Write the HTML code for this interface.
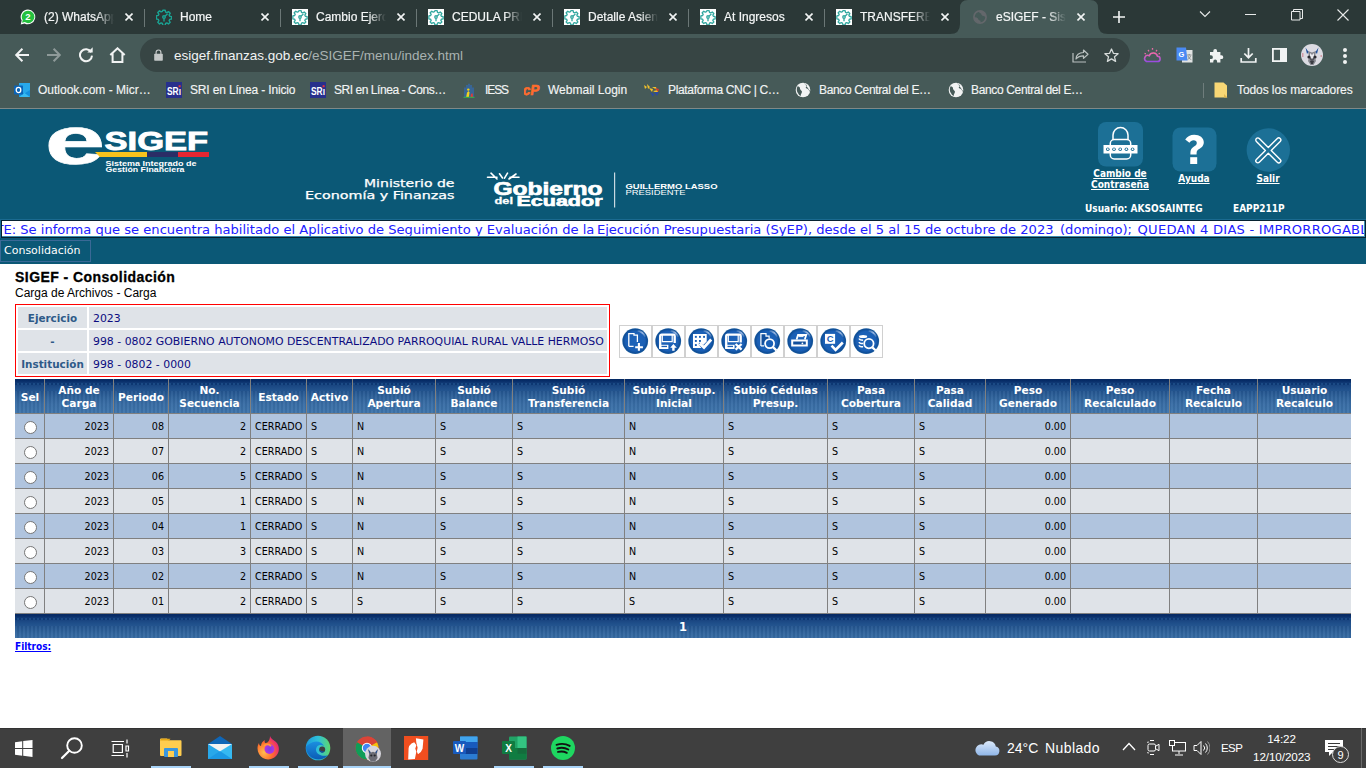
<!DOCTYPE html>
<html lang="es"><head><meta charset="utf-8"><title>eSIGEF - Sistema</title>
<style>
*{margin:0;padding:0;box-sizing:border-box}
html,body{width:1366px;height:768px;overflow:hidden;background:#fff;font-family:"Liberation Sans",sans-serif}
.abs{position:absolute}
.tabt{font:12px "Liberation Sans",sans-serif;color:#f4f6f6;-webkit-text-stroke:0.2px #f4f6f6;white-space:nowrap;overflow:hidden;line-height:17px;
 -webkit-mask-image:linear-gradient(to right,#000 75%,transparent 100%);mask-image:linear-gradient(to right,#000 75%,transparent 100%)}
.url{left:174px;top:47px;font:13.5px "Liberation Sans",sans-serif;color:#f1f3f3;white-space:nowrap;line-height:18px}
.bmt{top:82px;font:12px "Liberation Sans",sans-serif;color:#f2f4f4;-webkit-text-stroke:0.15px #f2f4f4;white-space:nowrap;line-height:16px}
.hl{font:bold 10px "DejaVu Sans Condensed","DejaVu Sans",sans-serif;color:#fff;text-align:center;text-decoration:underline;line-height:11px;white-space:nowrap}
.hu{font:bold 10px "DejaVu Sans Condensed","DejaVu Sans",sans-serif;color:#fff;white-space:nowrap;line-height:14px}
.mq{left:2px;top:221px;width:1362px;height:15px;overflow:hidden;background:#fff}
.mqi{position:absolute;top:1px;font:13.1px "DejaVu Sans",sans-serif;color:#2020ff;white-space:nowrap;line-height:16px}
.menu{left:0;top:240px;width:91px;height:22px;border:1px solid #3a6996;color:#fff;font:11px "DejaVu Sans",sans-serif;line-height:20px;padding-left:3px}
.flab{left:18px;width:69px;height:21px;background:#dfe3e8;font:bold 10.4px "DejaVu Sans",sans-serif;color:#2e5a88;text-align:center;line-height:23px}
.fval{left:89px;width:518px;height:21px;background:#dfe3e8;font:10.9px "DejaVu Sans",sans-serif;color:#0b0b80;padding-left:4px;line-height:23.5px;white-space:nowrap}
.thead{background:
 repeating-linear-gradient(90deg,#0d3772 0 2px,#1b4a85 2px 4px) 0 4px/100% 2px no-repeat,
 repeating-linear-gradient(90deg,rgba(255,255,255,0.045) 0 2px,rgba(0,0,0,0.045) 2px 4px) 0 12px/100% 30px no-repeat,
 linear-gradient(#062a64 0,#072c67 2px,#0c3470 3px,#163f7a 5px,#1b4884 7px,#20508b 10px,#275993 14px,#30649d 19px,#386da5 25px,#3e74ab 100%)}
.td{font:9.6px "DejaVu Sans",sans-serif;color:#000;line-height:26px;height:24px;white-space:nowrap}
.th{font:bold 10.6px "DejaVu Sans",sans-serif;color:#fff;text-align:center;height:34px;padding-top:1.8px;display:flex;align-items:center;justify-content:center;line-height:13.1px;white-space:nowrap}
.radio{width:13px;height:13px;border-radius:50%;border:1px solid #767676;background:#fff}
.tray{font:14px "Liberation Sans",sans-serif;color:#fff;white-space:nowrap;line-height:20px}
</style></head><body>
<svg width="0" height="0" style="position:absolute"><defs>
<radialGradient id="ball" cx="0.5" cy="0.5" r="0.5"><stop offset="0" stop-color="#1d63b9"/><stop offset="0.75" stop-color="#1a5fb5"/><stop offset="0.92" stop-color="#0f4e98"/><stop offset="1" stop-color="#23629f"/></radialGradient>
<linearGradient id="gloss" x1="0" y1="0" x2="1" y2="1"><stop offset="0" stop-color="#fff" stop-opacity="0.1"/><stop offset="0.5" stop-color="#cfe0ff" stop-opacity="0.7"/><stop offset="1" stop-color="#fff" stop-opacity="0.1"/></linearGradient>
</defs></svg>
<div class="abs" style="left:0;top:0;width:1366px;height:34px;background:#2b3837"></div>
<svg class="abs" style="left:950px;top:0" width="158" height="34" viewBox="0 0 158 34">
<path d="M0 34 Q10 34 10 24 L10 8 Q10 0 18 0 L140 0 Q148 0 148 8 L148 24 Q148 34 158 34 Z" fill="#465a58"/></svg>
<div class="abs" style="left:144px;top:9px;width:1px;height:18px;background:#6b7776"></div>
<div class="abs" style="left:280px;top:9px;width:1px;height:18px;background:#6b7776"></div>
<div class="abs" style="left:416px;top:9px;width:1px;height:18px;background:#6b7776"></div>
<div class="abs" style="left:552px;top:9px;width:1px;height:18px;background:#6b7776"></div>
<div class="abs" style="left:688px;top:9px;width:1px;height:18px;background:#6b7776"></div>
<div class="abs" style="left:824px;top:9px;width:1px;height:18px;background:#6b7776"></div>
<div class="abs tabt" style="left:44px;top:9px;width:70px;height:17px;--bg:#2b3837">(2) WhatsApp</div>
<svg class="abs" style="left:125px;top:13px" width="8" height="8" viewBox="0 0 8 8"><path d="M0.5 0.5L7.5 7.5M7.5 0.5L0.5 7.5" stroke="#f2f4f4" stroke-width="1.6"/></svg>
<div class="abs tabt" style="left:180px;top:9px;width:84px;height:17px;--bg:#2b3837">Home</div>
<svg class="abs" style="left:261px;top:13px" width="8" height="8" viewBox="0 0 8 8"><path d="M0.5 0.5L7.5 7.5M7.5 0.5L0.5 7.5" stroke="#f2f4f4" stroke-width="1.6"/></svg>
<div class="abs tabt" style="left:316px;top:9px;width:70px;height:17px;--bg:#2b3837">Cambio Ejercicio</div>
<svg class="abs" style="left:397px;top:13px" width="8" height="8" viewBox="0 0 8 8"><path d="M0.5 0.5L7.5 7.5M7.5 0.5L0.5 7.5" stroke="#f2f4f4" stroke-width="1.6"/></svg>
<div class="abs tabt" style="left:452px;top:9px;width:70px;height:17px;--bg:#2b3837">CEDULA PRESUP</div>
<svg class="abs" style="left:533px;top:13px" width="8" height="8" viewBox="0 0 8 8"><path d="M0.5 0.5L7.5 7.5M7.5 0.5L0.5 7.5" stroke="#f2f4f4" stroke-width="1.6"/></svg>
<div class="abs tabt" style="left:588px;top:9px;width:70px;height:17px;--bg:#2b3837">Detalle Asiento</div>
<svg class="abs" style="left:669px;top:13px" width="8" height="8" viewBox="0 0 8 8"><path d="M0.5 0.5L7.5 7.5M7.5 0.5L0.5 7.5" stroke="#f2f4f4" stroke-width="1.6"/></svg>
<div class="abs tabt" style="left:724px;top:9px;width:84px;height:17px;--bg:#2b3837">At Ingresos</div>
<svg class="abs" style="left:805px;top:13px" width="8" height="8" viewBox="0 0 8 8"><path d="M0.5 0.5L7.5 7.5M7.5 0.5L0.5 7.5" stroke="#f2f4f4" stroke-width="1.6"/></svg>
<div class="abs tabt" style="left:860px;top:9px;width:70px;height:17px;--bg:#2b3837">TRANSFERENCIAS</div>
<svg class="abs" style="left:941px;top:13px" width="8" height="8" viewBox="0 0 8 8"><path d="M0.5 0.5L7.5 7.5M7.5 0.5L0.5 7.5" stroke="#f2f4f4" stroke-width="1.6"/></svg>
<div class="abs tabt" style="left:996px;top:9px;width:70px;height:17px;--bg:#465a58">eSIGEF - Sistema</div>
<svg class="abs" style="left:1077px;top:13px" width="8" height="8" viewBox="0 0 8 8"><path d="M0.5 0.5L7.5 7.5M7.5 0.5L0.5 7.5" stroke="#f2f4f4" stroke-width="1.6"/></svg>
<svg class="abs" style="left:20px;top:9px" width="16" height="16" viewBox="0 0 16 16">
<path d="M8 0.6a7.3 7.3 0 0 0-6.3 11l-1 3.8 3.9-1A7.3 7.3 0 1 0 8 0.6z" fill="#fff"/>
<path d="M8 1.7a6.2 6.2 0 0 0-5.3 9.4l-.7 2.7 2.8-.7A6.2 6.2 0 1 0 8 1.7z" fill="#25c03f"/>
<text x="8" y="11.4" font-family="Liberation Sans" font-weight="bold" font-size="9.5" fill="#fff" text-anchor="middle">2</text></svg>
<svg class="abs" style="left:156px;top:9px" width="16" height="16" viewBox="0 0 16 16">
<g transform="translate(8 8) scale(1.0) translate(-8 -8)" fill="none" stroke="#1aa393" stroke-width="1.4" stroke-linejoin="round">
<path d="M6.8 1.2h2.4l.4 1.9 1.3.6 1.6-1.1 1.7 1.7-1.1 1.6.6 1.3 1.9.4v2.4l-1.9.4-.6 1.3 1.1 1.6-1.7 1.7-1.6-1.1-1.3.6-.4 1.9H6.8l-.4-1.9-1.3-.6-1.6 1.1-1.7-1.7 1.1-1.6-.6-1.3-1.9-.4V6.8l1.9-.4.6-1.3-1.1-1.6 1.7-1.7 1.6 1.1 1.3-.6z"/>
<circle cx="8" cy="8" r="1.3"/><path d="M8 9.3v3.2M9 7.2l2.6-2.4"/>
</g></svg>
<svg class="abs" style="left:292px;top:9px" width="16" height="16" viewBox="0 0 16 16"><rect x="0" y="0" width="16" height="16" fill="#fff"/>
<g transform="translate(8 8) scale(0.94) translate(-8 -8)" fill="none" stroke="#33a8a0" stroke-width="1.4" stroke-linejoin="round">
<path d="M6.8 1.2h2.4l.4 1.9 1.3.6 1.6-1.1 1.7 1.7-1.1 1.6.6 1.3 1.9.4v2.4l-1.9.4-.6 1.3 1.1 1.6-1.7 1.7-1.6-1.1-1.3.6-.4 1.9H6.8l-.4-1.9-1.3-.6-1.6 1.1-1.7-1.7 1.1-1.6-.6-1.3-1.9-.4V6.8l1.9-.4.6-1.3-1.1-1.6 1.7-1.7 1.6 1.1 1.3-.6z"/>
<circle cx="8" cy="8" r="1.3"/><path d="M8 9.3v3.2M9 7.2l2.6-2.4"/>
</g></svg>
<svg class="abs" style="left:428px;top:9px" width="16" height="16" viewBox="0 0 16 16"><rect x="0" y="0" width="16" height="16" fill="#fff"/>
<g transform="translate(8 8) scale(0.94) translate(-8 -8)" fill="none" stroke="#33a8a0" stroke-width="1.4" stroke-linejoin="round">
<path d="M6.8 1.2h2.4l.4 1.9 1.3.6 1.6-1.1 1.7 1.7-1.1 1.6.6 1.3 1.9.4v2.4l-1.9.4-.6 1.3 1.1 1.6-1.7 1.7-1.6-1.1-1.3.6-.4 1.9H6.8l-.4-1.9-1.3-.6-1.6 1.1-1.7-1.7 1.1-1.6-.6-1.3-1.9-.4V6.8l1.9-.4.6-1.3-1.1-1.6 1.7-1.7 1.6 1.1 1.3-.6z"/>
<circle cx="8" cy="8" r="1.3"/><path d="M8 9.3v3.2M9 7.2l2.6-2.4"/>
</g></svg>
<svg class="abs" style="left:564px;top:9px" width="16" height="16" viewBox="0 0 16 16"><rect x="0" y="0" width="16" height="16" fill="#fff"/>
<g transform="translate(8 8) scale(0.94) translate(-8 -8)" fill="none" stroke="#33a8a0" stroke-width="1.4" stroke-linejoin="round">
<path d="M6.8 1.2h2.4l.4 1.9 1.3.6 1.6-1.1 1.7 1.7-1.1 1.6.6 1.3 1.9.4v2.4l-1.9.4-.6 1.3 1.1 1.6-1.7 1.7-1.6-1.1-1.3.6-.4 1.9H6.8l-.4-1.9-1.3-.6-1.6 1.1-1.7-1.7 1.1-1.6-.6-1.3-1.9-.4V6.8l1.9-.4.6-1.3-1.1-1.6 1.7-1.7 1.6 1.1 1.3-.6z"/>
<circle cx="8" cy="8" r="1.3"/><path d="M8 9.3v3.2M9 7.2l2.6-2.4"/>
</g></svg>
<svg class="abs" style="left:700px;top:9px" width="16" height="16" viewBox="0 0 16 16"><rect x="0" y="0" width="16" height="16" fill="#fff"/>
<g transform="translate(8 8) scale(0.94) translate(-8 -8)" fill="none" stroke="#33a8a0" stroke-width="1.4" stroke-linejoin="round">
<path d="M6.8 1.2h2.4l.4 1.9 1.3.6 1.6-1.1 1.7 1.7-1.1 1.6.6 1.3 1.9.4v2.4l-1.9.4-.6 1.3 1.1 1.6-1.7 1.7-1.6-1.1-1.3.6-.4 1.9H6.8l-.4-1.9-1.3-.6-1.6 1.1-1.7-1.7 1.1-1.6-.6-1.3-1.9-.4V6.8l1.9-.4.6-1.3-1.1-1.6 1.7-1.7 1.6 1.1 1.3-.6z"/>
<circle cx="8" cy="8" r="1.3"/><path d="M8 9.3v3.2M9 7.2l2.6-2.4"/>
</g></svg>
<svg class="abs" style="left:836px;top:9px" width="16" height="16" viewBox="0 0 16 16"><rect x="0" y="0" width="16" height="16" fill="#fff"/>
<g transform="translate(8 8) scale(0.94) translate(-8 -8)" fill="none" stroke="#33a8a0" stroke-width="1.4" stroke-linejoin="round">
<path d="M6.8 1.2h2.4l.4 1.9 1.3.6 1.6-1.1 1.7 1.7-1.1 1.6.6 1.3 1.9.4v2.4l-1.9.4-.6 1.3 1.1 1.6-1.7 1.7-1.6-1.1-1.3.6-.4 1.9H6.8l-.4-1.9-1.3-.6-1.6 1.1-1.7-1.7 1.1-1.6-.6-1.3-1.9-.4V6.8l1.9-.4.6-1.3-1.1-1.6 1.7-1.7 1.6 1.1 1.3-.6z"/>
<circle cx="8" cy="8" r="1.3"/><path d="M8 9.3v3.2M9 7.2l2.6-2.4"/>
</g></svg>
<svg class="abs" style="left:972px;top:9px" width="16" height="16" viewBox="0 0 16 16">
<circle cx="8" cy="8" r="6.1" fill="none" stroke="#63676b" stroke-width="1.7"/>
<path d="M6.8 2.2C7 3.6 8 4.3 9.1 4.4 9.3 5.7 10.2 6.7 11.5 7 12.5 7.2 13.3 7.7 13.9 8.5L14.2 6 12.3 3 9 1.6z" fill="#63676b"/>
<path d="M1.9 8.4C3.5 8.2 5 8.5 6 9.4 6.2 10.8 7.3 11.5 8.5 11.7 8.7 12.7 8.4 13.6 7.6 14.2L5 13.6 2.4 11z" fill="#63676b"/></svg>
<svg class="abs" style="left:1112px;top:10px" width="14" height="14" viewBox="0 0 14 14"><path d="M7 1v12M1 7h12" stroke="#f2f4f4" stroke-width="1.6"/></svg>
<svg class="abs" style="left:1199px;top:10px" width="12" height="8" viewBox="0 0 12 8"><path d="M1 1.5l5 5 5-5" fill="none" stroke="#e8eaea" stroke-width="1.1"/></svg>
<div class="abs" style="left:1245px;top:14px;width:11px;height:1px;background:#e8eaea"></div>
<svg class="abs" style="left:1291px;top:9px" width="12" height="12" viewBox="0 0 12 12"><path d="M0.5 2.5h8.5v8.5H0.5z" fill="none" stroke="#e8eaea"/><path d="M2.5 2.5V0.5h9v9H9" fill="none" stroke="#e8eaea"/></svg>
<svg class="abs" style="left:1337px;top:9px" width="12" height="12" viewBox="0 0 12 12"><path d="M0.5 0.5l11 11M11.5 0.5l-11 11" stroke="#e8eaea" stroke-width="1.1"/></svg>
<div class="abs" style="left:0;top:34px;width:1366px;height:74px;background:#465a58"></div>
<svg class="abs" style="left:14px;top:47px" width="16" height="16" viewBox="0 0 16 16"><path d="M15 8H2.8M8.4 1.8L2.2 8l6.2 6.2" fill="none" stroke="#f1f3f3" stroke-width="2"/></svg>
<svg class="abs" style="left:46px;top:47px" width="16" height="16" viewBox="0 0 16 16"><path d="M1 8h12.2M7.6 1.8L13.8 8l-6.2 6.2" fill="none" stroke="#8e9a99" stroke-width="2"/></svg>
<svg class="abs" style="left:78px;top:47px" width="16" height="16" viewBox="0 0 16 16"><path d="M13.2 5.2A6 6 0 1 0 14 8.6" fill="none" stroke="#f1f3f3" stroke-width="2"/><path d="M9.3 5.6h5.4V0.2z" fill="#f1f3f3"/></svg>
<svg class="abs" style="left:109px;top:47px" width="17" height="16" viewBox="0 0 17 16"><path d="M1.3 8L8.5 1.3 15.7 8M3.6 6.2V15h9.8V6.2" fill="none" stroke="#f1f3f3" stroke-width="2" stroke-linejoin="miter"/></svg>
<div class="abs" style="left:140px;top:38px;width:990px;height:34px;border-radius:17px;background:#374544"></div>
<svg class="abs" style="left:153.5px;top:49px" width="9" height="12" viewBox="0 0 9 12"><path d="M2.1 5V3.4a2.4 2.4 0 0 1 4.8 0V5" fill="none" stroke="#c4c8c8" stroke-width="1.2"/><rect x="0.2" y="4.8" width="8.6" height="6.9" rx="0.7" fill="#c4c8c8"/></svg>
<div class="abs url">esigef.finanzas.gob.ec<span style="color:#a9b2b1">/eSIGEF/menu/index.html</span></div>
<svg class="abs" style="left:1072px;top:48px" width="17" height="15" viewBox="0 0 17 15"><path d="M1 5v9h13" fill="none" stroke="#b9c0bf" stroke-width="1.2"/><path d="M4 11c0-4 3-6.5 7.5-6.5V2l4.5 4.2-4.5 4.2V7.8C8 7.8 5.5 9 4 11z" fill="none" stroke="#b9c0bf" stroke-width="1.2" stroke-linejoin="round"/></svg>
<svg class="abs" style="left:1104px;top:48px" width="15" height="15" viewBox="0 0 15 15"><path d="M7.5 1l1.9 4.3 4.7.4-3.6 3.1 1.1 4.6-4.1-2.5-4.1 2.5 1.1-4.6L0.9 5.7l4.7-.4z" fill="none" stroke="#d5dad9" stroke-width="1.3" stroke-linejoin="round"/></svg>
<svg class="abs" style="left:1143px;top:47px" width="18" height="16" viewBox="0 0 18 16"><defs><linearGradient id="wg" x1="0" y1="0" x2="0" y2="1"><stop offset="0" stop-color="#f06aa8"/><stop offset="1" stop-color="#9a4de0"/></linearGradient></defs>
<path d="M3.5 14.5h11a2.6 2.6 0 0 0 0-5.2 4.3 4.3 0 0 0-8.2-.6A3 3 0 0 0 3.5 14.5z" fill="none" stroke="url(#wg)" stroke-width="1.6"/><path d="M9.5 1v1.8M5 3l1 1.3M14 3l-1 1.3M1.5 6.3l1.4.5M17 6.3l-1.4.5" stroke="#e86aa6" stroke-width="1.3"/></svg>
<svg class="abs" style="left:1176px;top:47px" width="17" height="16" viewBox="0 0 17 16"><rect x="6" y="3" width="10.5" height="12.5" fill="#e1e3e3"/><path d="M0.5 0.5h9.5l1.5 13H0.5z" fill="#4a8af4"/><text x="5.3" y="9.6" font-family="Liberation Sans" font-weight="bold" font-size="7.5" fill="#fff" text-anchor="middle">G</text><path d="M11 8h4.5M13.2 7v1.2M12 9c.6 1.8 1.8 3 3.3 3.6M14.6 8.8c-.5 1.7-1.6 3-3 3.8" stroke="#7a7f7f" stroke-width="0.8" fill="none"/></svg>
<svg class="abs" style="left:1209px;top:48px" width="15" height="15" viewBox="0 0 15 15"><path d="M1 4h3.3V3a1.9 1.9 0 0 1 3.8 0v1h3.3v3.3h1a1.9 1.9 0 0 1 0 3.8h-1V14.5H8.1v-1a1.9 1.9 0 0 0-3.8 0v1H1v-3.4h1a1.9 1.9 0 0 0 0-3.8H1z" fill="#f1f3f3"/></svg>
<svg class="abs" style="left:1240px;top:47px" width="17" height="16" viewBox="0 0 17 16"><path d="M8.5 1v9.5M4.3 6.5l4.2 4.2 4.2-4.2M1.2 11v4h14.6v-4" fill="none" stroke="#f1f3f3" stroke-width="1.7"/></svg>
<svg class="abs" style="left:1272px;top:48px" width="15" height="14" viewBox="0 0 15 14"><rect x="0.9" y="0.9" width="13.2" height="12.2" fill="none" stroke="#f1f3f3" stroke-width="1.8"/><rect x="8" y="1" width="6" height="12" fill="#f1f3f3"/></svg>
<svg class="abs" style="left:1301px;top:44px" width="22" height="22" viewBox="0 0 22 22"><defs><clipPath id="avc"><circle cx="11" cy="11" r="11"/></clipPath></defs><g clip-path="url(#avc)"><rect width="22" height="22" fill="#dcdbe2"/>
<path d="M7 7l4 1.5 4-1.5-1 6 1 4-2.5 4h-3L7 17l1-4z" fill="#85868e"/><path d="M9 12l2 1 2-1v4l-2 2-2-2z" fill="#55565e"/><path d="M4.5 3.5l3 4.5-1.5 2zM17.5 3.5l-3 4.5 1.5 2z" fill="#1d4f9a"/>
<path d="M9 9l2 2 2-2 0 4-2 2-2-2z" fill="#e8e8ec"/><circle cx="8" cy="13" r="1.6" fill="#2a2b30"/><circle cx="14" cy="13" r="1.6" fill="#2a2b30"/><path d="M9 17h4l-1 3h-2z" fill="#3a3b42"/>
<path d="M1 10h1.5M1 12h1.5M19.5 12h1.5" stroke="#c04050" stroke-width="0.8"/></g></svg>
<div class="abs" style="left:1343px;top:48px;width:4px;height:4px;border-radius:2px;background:#f1f3f3"></div>
<div class="abs" style="left:1343px;top:54px;width:4px;height:4px;border-radius:2px;background:#f1f3f3"></div>
<div class="abs" style="left:1343px;top:60px;width:4px;height:4px;border-radius:2px;background:#f1f3f3"></div>
<svg class="abs" style="left:14px;top:82px" width="16" height="16" viewBox="0 0 16 16"><rect x="5" y="1" width="11" height="14" fill="#28a8ea"/><path d="M5 8l5.5 3.5L16 8v7H5z" fill="#1490df"/><path d="M5 15l5.5-4L16 15z" fill="#50d9ff" opacity=".6"/><rect x="0" y="3.5" width="9" height="9" rx="0.8" fill="#0a64b8"/><ellipse cx="4.5" cy="8" rx="2.3" ry="2.6" fill="none" stroke="#fff" stroke-width="1.3"/></svg>
<div class="abs bmt" style="left:38px">Outlook.com - Micr…</div>
<svg class="abs" style="left:166px;top:82px" width="16" height="16" viewBox="0 0 16 16"><rect width="16" height="16" fill="#28308c"/><text x="1" y="12.6" font-family="Liberation Sans" font-weight="bold" font-size="11" fill="#fff" textLength="14" lengthAdjust="spacingAndGlyphs">SRı</text><rect x="12.6" y="3.2" width="2" height="2" fill="#e8343a"/></svg>
<div class="abs bmt" style="left:190px;letter-spacing:-0.16px">SRI en Línea - Inicio</div>
<svg class="abs" style="left:310px;top:82px" width="16" height="16" viewBox="0 0 16 16"><rect width="16" height="16" fill="#28308c"/><text x="1" y="12.6" font-family="Liberation Sans" font-weight="bold" font-size="11" fill="#fff" textLength="14" lengthAdjust="spacingAndGlyphs">SRı</text><rect x="12.6" y="3.2" width="2" height="2" fill="#e8343a"/></svg>
<div class="abs bmt" style="left:334px;letter-spacing:-0.45px">SRI en Línea - Cons…</div>
<svg class="abs" style="left:461px;top:82px" width="16" height="16" viewBox="0 0 16 16">
<path d="M4 15V5.5M6 15V3M8 15V1.8M10 15V3M12 15V5.5" stroke="#2f6fc8" stroke-width="1.1"/>
<path d="M5.2 15l.8-4.2 1.5-1.8 1 1.6-.6 4.4z" fill="#f2d21c"/><circle cx="7.3" cy="7.6" r="1.2" fill="#f2d21c"/>
<path d="M9.5 15l.5-3 1.5-.8.5 3.8z" fill="#e03a3a"/><path d="M2.5 15.3h11" stroke="#2fb84a" stroke-width="1"/></svg>
<div class="abs bmt" style="left:485px;letter-spacing:-1.1px">IESS</div>
<svg class="abs" style="left:524px;top:82px" width="17" height="16" viewBox="0 0 17 16"><text x="0" y="13.2" font-family="Liberation Sans" font-weight="bold" font-size="14.5" fill="#ff6c2c" stroke="#ff6c2c" stroke-width="0.6" textLength="16.5" lengthAdjust="spacingAndGlyphs" transform="skewX(-8)">cP</text></svg>
<div class="abs bmt" style="left:548px">Webmail Login</div>
<svg class="abs" style="left:643px;top:82px" width="17" height="16" viewBox="0 0 17 16"><path d="M1 3l3 2-2 2zM4 2l3 3-2 2zM6 6l4 1-1 3zM9 5l4 0 1 3zM10 9l5-1 0 4z" fill="#f2c22b"/><path d="M7 10l4 2-1 3zM11 10l5 0-2 4z" fill="#2a4aa0"/><path d="M12 6l4 1-1 3z" fill="#d23b2b"/></svg>
<div class="abs bmt" style="left:668px;letter-spacing:-0.33px">Plataforma CNC | C…</div>
<svg class="abs" style="left:795px;top:82px" width="16" height="16" viewBox="0 0 16 16"><circle cx="8" cy="8" r="7.3" fill="#f1f3f3"/>
<path d="M2.6 4.3c1.6.2 2.6 1 2.4 2.2-.2 1 1 1.5 1.7 2.5.6.9-.2 2.3-.7 3.3-.4.8-.2 1.5.3 2A7.3 7.3 0 0 1 2.6 4.3zM9.3 1c.2 1 1 1.5 1.9 1.8.9.3.6 1.4-.1 1.9-.7.5-.3 1.5.6 1.7 1.1.2 1.9.9 2.2 1.9.3 1 .9 1.3 1.4 1.2" fill="#465a58"/></svg>
<div class="abs bmt" style="left:819px;letter-spacing:-0.35px">Banco Central del E…</div>
<svg class="abs" style="left:948px;top:82px" width="16" height="16" viewBox="0 0 16 16"><circle cx="8" cy="8" r="7.3" fill="#f1f3f3"/>
<path d="M2.6 4.3c1.6.2 2.6 1 2.4 2.2-.2 1 1 1.5 1.7 2.5.6.9-.2 2.3-.7 3.3-.4.8-.2 1.5.3 2A7.3 7.3 0 0 1 2.6 4.3zM9.3 1c.2 1 1 1.5 1.9 1.8.9.3.6 1.4-.1 1.9-.7.5-.3 1.5.6 1.7 1.1.2 1.9.9 2.2 1.9.3 1 .9 1.3 1.4 1.2" fill="#465a58"/></svg>
<div class="abs bmt" style="left:971px;letter-spacing:-0.35px">Banco Central del E…</div>
<div class="abs" style="left:1203px;top:83px;width:1px;height:15px;background:#6f7d7c"></div>
<svg class="abs" style="left:1214px;top:82px" width="14" height="16" viewBox="0 0 14 16"><path d="M0.5 0.5h9l3.5 3v12H0.5z" fill="#f8d775"/><path d="M10 12v3.5h3.5z" fill="#e0b850"/></svg>
<div class="abs bmt" style="left:1237px;letter-spacing:-0.09px">Todos los marcadores</div>
<div class="abs" style="left:0;top:108px;width:1366px;height:1px;background:#7f8988"></div>
<div class="abs" style="left:0;top:109px;width:1366px;height:155px;background:#0b5876"></div>
<svg class="abs" style="left:40px;top:118px" width="180" height="60" viewBox="40 118 180 60">
<text x="44.8" y="164.2" font-family="Liberation Sans" font-weight="bold" font-size="68" fill="#fff" stroke="#fff" stroke-width="0.6" transform="translate(44.8 164.2) scale(1.6 1) translate(-44.8 -164.2)">e</text>
<text x="104.6" y="149.6" font-family="Liberation Sans" font-weight="bold" font-size="26.3" fill="#fff" stroke="#fff" stroke-width="0.9" textLength="103.6" lengthAdjust="spacingAndGlyphs">SIGEF</text>
<path d="M95 152h52v5h-47z" fill="#f7c21c"/><path d="M147 152h31v5h-31z" fill="#2b2d66"/><path d="M178 152h31v5h-31z" fill="#e52632"/>
<text x="105.5" y="165.5" font-family="Liberation Sans" font-weight="bold" font-size="7" fill="#fff" textLength="91" lengthAdjust="spacingAndGlyphs">Sistema Integrado de</text>
<text x="105.5" y="171.8" font-family="Liberation Sans" font-weight="bold" font-size="7" fill="#fff" textLength="79" lengthAdjust="spacingAndGlyphs">Gestión Financiera</text>
</svg>
<svg class="abs" style="left:290px;top:170px" width="180" height="36" viewBox="290 170 180 36">
<text x="364" y="187.2" font-family="DejaVu Sans" font-size="9.7" fill="#fff" stroke="#fff" stroke-width="0.25" textLength="90.5" lengthAdjust="spacingAndGlyphs">Ministerio de</text>
<text x="305" y="198.6" font-family="DejaVu Sans" font-size="9.7" fill="#fff" stroke="#fff" stroke-width="0.25" textLength="149.5" lengthAdjust="spacingAndGlyphs">Economía y Finanzas</text>
</svg>
<svg class="abs" style="left:480px;top:165px" width="250" height="47" viewBox="480 165 250 47">
<path d="M487.5 177.2h9.5M491 173.2l6 5.8M499.5 173.8l3 4.2M507.5 173.2l-3 5M516 174l-7 5M519 177.2h-9" stroke="#fff" stroke-width="1.6" stroke-linecap="round"/>
<text x="493.5" y="194.5" font-family="Liberation Sans" font-weight="bold" font-size="18.5" fill="#fff" stroke="#fff" stroke-width="0.7" textLength="109" lengthAdjust="spacingAndGlyphs">Gobierno</text>
<text x="494.5" y="204.3" font-family="Liberation Sans" font-weight="bold" font-size="9.5" fill="#fff" stroke="#fff" stroke-width="0.3" textLength="18.5" lengthAdjust="spacingAndGlyphs">del</text>
<text x="516.5" y="206.3" font-family="Liberation Sans" font-weight="bold" font-size="14" fill="#fff" stroke="#fff" stroke-width="0.6" textLength="86" lengthAdjust="spacingAndGlyphs">Ecuador</text>
<rect x="614" y="172.5" width="1.2" height="35" fill="#c9d9e2"/>
<text x="625.5" y="189.4" font-family="Liberation Sans" font-weight="bold" font-size="6.5" fill="#fff" textLength="92" lengthAdjust="spacingAndGlyphs">GUILLERMO LASSO</text>
<text x="625.5" y="194.8" font-family="Liberation Sans" font-size="6.5" fill="#fff" textLength="60" lengthAdjust="spacingAndGlyphs">PRESIDENTE</text>
</svg>
<svg class="abs" style="left:1098px;top:122px" width="45" height="45" viewBox="0 0 45 45"><rect width="45" height="44.5" rx="8" fill="#1c7096"/>
<path d="M15 17.5v-4.5a7.5 7.5 0 0 1 15 0v4.5" fill="none" stroke="#fff" stroke-width="1.5"/>
<rect x="12.3" y="17.5" width="20.4" height="19.5" rx="4" fill="none" stroke="#fff" stroke-width="1.5"/>
<rect x="5.5" y="23" width="34" height="8.5" fill="#fff"/>
<g fill="#1c7096"><circle cx="9.8" cy="27.2" r="1.8"/><circle cx="16" cy="27.2" r="1.8"/><circle cx="22.2" cy="27.2" r="1.8"/><circle cx="28.4" cy="27.2" r="1.8"/><circle cx="34.6" cy="27.2" r="1.8"/></g>
<g fill="#fff"><circle cx="9.8" cy="27.2" r="0.9"/><circle cx="16" cy="27.2" r="0.9"/><circle cx="22.2" cy="27.2" r="0.9"/><circle cx="28.4" cy="27.2" r="0.9"/><circle cx="34.6" cy="27.2" r="0.9"/></g>
</svg>
<svg class="abs" style="left:1172px;top:127px" width="45" height="45" viewBox="0 0 45 45"><rect x="0.5" y="0.5" width="44" height="44" rx="8" fill="#1c7096"/>
<path d="M13.2 12.5c2-3.2 5.2-4.8 9-4.8 5.5 0 9.6 3 9.6 7.6 0 3.6-2.2 5.3-4.6 6.8-1.9 1.2-2.6 2.1-2.6 4.2v1.3h-6.2v-1.7c0-3.3 1.3-4.9 3.6-6.4 1.8-1.2 2.8-2 2.8-3.6 0-1.7-1.3-2.7-3.2-2.7-1.8 0-3.1.9-4.2 2.5z" fill="#fff"/>
<rect x="18.2" y="30.2" width="7" height="6.8" fill="#fff"/></svg>
<svg class="abs" style="left:1246px;top:128px" width="45" height="45" viewBox="0 0 45 45"><circle cx="22.3" cy="22" r="21.7" fill="#1c7096"/>
<path d="M13.3 10.5l9 9 9-9a2 2 0 0 1 2.9 2.9l-9 9 9 9a2 2 0 0 1-2.9 2.9l-9-9-9 9a2 2 0 0 1-2.9-2.9l9-9-9-9a2 2 0 0 1 2.9-2.9z" fill="none" stroke="#fff" stroke-width="1.4" stroke-linejoin="round"/></svg>
<div class="abs hl" style="left:1080px;top:167.5px;width:80px">Cambio de<br>Contraseña</div>
<div class="abs hl" style="left:1154px;top:173px;width:80px">Ayuda</div>
<div class="abs hl" style="left:1228px;top:173px;width:80px">Salir</div>
<div class="abs hu" style="left:1085px;top:202px">Usuario: AKSOSAINTEG</div>
<div class="abs hu" style="left:1233px;top:202px">EAPP211P</div>
<div class="abs" style="left:0;top:219px;width:1366px;height:19px;background:#1a6a90"></div>
<div class="abs" style="left:1px;top:220px;width:1365px;height:18px;background:#072231"></div>
<div class="abs" style="left:2px;top:221px;width:1363px;height:16px;background:#3b8db0"></div>
<div class="abs mq"><span class="mqi" style="left:-6.6px">TE: Se informa que se encuentra habilitado el Aplicativo de Seguimiento y Evaluación de la </span><span class="mqi" style="left:594.9px">Ejecución Presupuestaria (SyEP), desde el 5 al 15 de octubre de 2023 </span><span class="mqi" style="left:1058px">(domingo); </span><span class="mqi" style="left:1135.6px;letter-spacing:0.22px">QUEDAN 4 DIAS - IMPRORROGABLE</span></div>
<div class="abs menu">Consolidación</div>
<div class="abs" style="left:15px;top:269px;font:bold 14px 'Liberation Sans',sans-serif;letter-spacing:0.45px;-webkit-text-stroke:0.3px #000;color:#000;white-space:nowrap">SIGEF - Consolidación</div>
<div class="abs" style="left:15px;top:286px;font:12px 'Liberation Sans',sans-serif;color:#000;white-space:nowrap">Carga de Archivos - Carga</div>
<div class="abs" style="left:15px;top:304px;width:595px;height:73px;border:1px solid #ff0000;background:#fff"></div>
<div class="abs flab" style="top:307px">Ejercicio</div>
<div class="abs fval" style="top:307px">2023</div>
<div class="abs flab" style="top:330px">-</div>
<div class="abs fval" style="top:330px">998 - 0802 GOBIERNO AUTONOMO DESCENTRALIZADO PARROQUIAL RURAL VALLE HERMOSO</div>
<div class="abs flab" style="top:353px">Institución</div>
<div class="abs fval" style="top:353px">998 - 0802 - 0000</div>
<div class="abs" style="left:619px;top:325px;width:33px;height:33px;border:1px solid #d0d0d0;background:#fff"></div>
<svg class="abs" style="left:622px;top:328px" width="27" height="27" viewBox="0 0 27 27">
<circle cx="13.2" cy="13.1" r="12.9" fill="url(#ball)"/><path d="M15.5 2.6a11 11 0 0 1 7.8 6.2" fill="none" stroke="url(#gloss)" stroke-width="1.6"/><path d="M6.8 18.3V5.6H12V7.2H15.4V14M6.8 18.3H11.6" fill="none" stroke="#fff" stroke-width="1.3"/><path d="M16.9 15.1v7.7M13.2 19.2h7.7" stroke="#fff" stroke-width="2.1"/></svg>
<div class="abs" style="left:652px;top:325px;width:33px;height:33px;border:1px solid #d0d0d0;background:#fff"></div>
<svg class="abs" style="left:655px;top:328px" width="27" height="27" viewBox="0 0 27 27">
<circle cx="13.2" cy="13.1" r="12.9" fill="url(#ball)"/><path d="M15.5 2.6a11 11 0 0 1 7.8 6.2" fill="none" stroke="url(#gloss)" stroke-width="1.6"/><path d="M5.2 20V8.3a1.6 1.6 0 0 1 1.6-1.6H18.5a1.2 1.2 0 0 1 1.2 1.2V15" fill="none" stroke="#fff" stroke-width="2.3"/><path d="M7.3 6.8V13.6H17.2V6.8" fill="none" stroke="#fff" stroke-width="1.2"/><path d="M4.1 16.8h9.3v4.2H4.1z" fill="#fff"/><rect x="6.5" y="17.8" width="5.5" height="1.3" fill="#1a5fb5"/><path d="M15.2 19.7L18.4 16l3.4 3.7zM17.2 19.5h2.4v3.3h-2.4z" fill="#fff"/></svg>
<div class="abs" style="left:685px;top:325px;width:33px;height:33px;border:1px solid #d0d0d0;background:#fff"></div>
<svg class="abs" style="left:688px;top:328px" width="27" height="27" viewBox="0 0 27 27">
<circle cx="13.2" cy="13.1" r="12.9" fill="url(#ball)"/><path d="M15.5 2.6a11 11 0 0 1 7.8 6.2" fill="none" stroke="url(#gloss)" stroke-width="1.6"/><path d="M5 5.9h13.7v7.5l-3.5 3.6-3.4-2.6-1.3 1.7 2.8 3.8H5z" fill="#fff"/><g fill="#1a5fb5"><rect x="6.9" y="7.9" width="1.9" height="1.9"/><rect x="11" y="7.9" width="1.9" height="1.9"/><rect x="15.1" y="7.9" width="1.9" height="1.9"/><rect x="6.9" y="12" width="1.9" height="1.9"/><rect x="11" y="12" width="1.9" height="1.9"/><rect x="6.9" y="16.1" width="1.9" height="1.9"/></g><path d="M11.7 15.4l4.3 4.1 7.2-8" fill="none" stroke="#fff" stroke-width="2.8"/></svg>
<div class="abs" style="left:718px;top:325px;width:33px;height:33px;border:1px solid #d0d0d0;background:#fff"></div>
<svg class="abs" style="left:721px;top:328px" width="27" height="27" viewBox="0 0 27 27">
<circle cx="13.2" cy="13.1" r="12.9" fill="url(#ball)"/><path d="M15.5 2.6a11 11 0 0 1 7.8 6.2" fill="none" stroke="url(#gloss)" stroke-width="1.6"/><path d="M5.2 20V8.3a1.6 1.6 0 0 1 1.6-1.6H18.5a1.2 1.2 0 0 1 1.2 1.2V14.5" fill="none" stroke="#fff" stroke-width="2.3"/><path d="M7.3 6.8V13.6H17.2V6.8" fill="none" stroke="#fff" stroke-width="1.2"/><path d="M4.1 16.8h9.5v4.2H4.1z" fill="#fff"/><rect x="6.5" y="17.8" width="5.5" height="1.3" fill="#1a5fb5"/><path d="M14.6 16l6 5.6M20.6 16l-6 5.6" stroke="#fff" stroke-width="2.3"/></svg>
<div class="abs" style="left:751px;top:325px;width:33px;height:33px;border:1px solid #d0d0d0;background:#fff"></div>
<svg class="abs" style="left:754px;top:328px" width="27" height="27" viewBox="0 0 27 27">
<circle cx="13.2" cy="13.1" r="12.9" fill="url(#ball)"/><path d="M15.5 2.6a11 11 0 0 1 7.8 6.2" fill="none" stroke="url(#gloss)" stroke-width="1.6"/><path d="M6.9 17.9V5.7H12V8.1H15.1V10.2" fill="#124f9c" stroke="#fff" stroke-width="1.2"/><path d="M6.9 17.9H10" stroke="#fff" stroke-width="1.2"/><circle cx="15.6" cy="15.6" r="4.5" fill="#1a5fb5" stroke="#fff" stroke-width="1.8"/><path d="M19 19.2l3.4 3.2" stroke="#fff" stroke-width="2.3"/></svg>
<div class="abs" style="left:784px;top:325px;width:33px;height:33px;border:1px solid #d0d0d0;background:#fff"></div>
<svg class="abs" style="left:787px;top:328px" width="27" height="27" viewBox="0 0 27 27">
<circle cx="13.2" cy="13.1" r="12.9" fill="url(#ball)"/><path d="M15.5 2.6a11 11 0 0 1 7.8 6.2" fill="none" stroke="url(#gloss)" stroke-width="1.6"/><path d="M9.6 11.6l1.4-4.6h8.2l-1.4 4.6" fill="none" stroke="#fff" stroke-width="1.8"/><path d="M5.2 12.6h14.6v5H5.2z" fill="#124f9c" stroke="#fff" stroke-width="2"/><path d="M11.5 8.6h5" stroke="#fff" stroke-width="1"/><circle cx="15.4" cy="15.3" r="0.9" fill="#fff"/></svg>
<div class="abs" style="left:817px;top:325px;width:33px;height:33px;border:1px solid #d0d0d0;background:#fff"></div>
<svg class="abs" style="left:820px;top:328px" width="27" height="27" viewBox="0 0 27 27">
<circle cx="13.2" cy="13.1" r="12.9" fill="url(#ball)"/><path d="M15.5 2.6a11 11 0 0 1 7.8 6.2" fill="none" stroke="url(#gloss)" stroke-width="1.6"/><rect x="5" y="5.9" width="10.1" height="9.9" fill="#fff"/><text x="10.1" y="14.1" font-family="Liberation Sans" font-weight="bold" font-size="9.5" fill="#1a5fb5" text-anchor="middle">C</text><path d="M11.5 17.6l4.1 4.2 7.2-7.3" fill="none" stroke="#fff" stroke-width="2.6"/></svg>
<div class="abs" style="left:850px;top:325px;width:33px;height:33px;border:1px solid #d0d0d0;background:#fff"></div>
<svg class="abs" style="left:853px;top:328px" width="27" height="27" viewBox="0 0 27 27">
<circle cx="13.2" cy="13.1" r="12.9" fill="url(#ball)"/><path d="M15.5 2.6a11 11 0 0 1 7.8 6.2" fill="none" stroke="url(#gloss)" stroke-width="1.6"/><ellipse cx="10.1" cy="8.6" rx="4.1" ry="1.5" fill="#fff"/><path d="M6.2 10.6c0 .9 1.7 1.6 3.9 1.6M6.2 14c0 .9 1.7 1.6 3.9 1.6M6.2 17.2c0 .9 1.7 1.6 3.9 1.6" fill="none" stroke="#fff" stroke-width="1.5"/><circle cx="15.9" cy="15.6" r="4.7" fill="#1a5fb5" stroke="#fff" stroke-width="1.8"/><path d="M19.3 19.3l3.5 3.2" stroke="#fff" stroke-width="2.3"/></svg>
<div class="abs thead" style="left:15px;top:379px;width:1336px;height:34px"></div>
<div class="abs" style="left:15px;top:413px;width:1336px;height:1px;background:#808080"></div>
<div class="abs" style="left:15px;top:414px;width:1336px;height:24px;background:#b0c4de"></div>
<div class="abs" style="left:15px;top:438px;width:1336px;height:1px;background:#808080"></div>
<div class="abs radio" style="left:24px;top:421px"></div>
<div class="abs td" style="left:44px;width:65px;top:414px;text-align:right">2023</div>
<div class="abs td" style="left:113px;width:51px;top:414px;text-align:right">08</div>
<div class="abs td" style="left:168px;width:78px;top:414px;text-align:right">2</div>
<div class="abs td" style="left:255px;top:414px">CERRADO</div>
<div class="abs td" style="left:311px;top:414px">S</div>
<div class="abs td" style="left:357px;top:414px">N</div>
<div class="abs td" style="left:440px;top:414px">S</div>
<div class="abs td" style="left:517px;top:414px">S</div>
<div class="abs td" style="left:629px;top:414px">N</div>
<div class="abs td" style="left:728px;top:414px">S</div>
<div class="abs td" style="left:832px;top:414px">S</div>
<div class="abs td" style="left:919px;top:414px">S</div>
<div class="abs td" style="left:985px;width:81px;top:414px;text-align:right">0.00</div>
<div class="abs" style="left:15px;top:439px;width:1336px;height:24px;background:#dfe3e8"></div>
<div class="abs" style="left:15px;top:463px;width:1336px;height:1px;background:#808080"></div>
<div class="abs radio" style="left:24px;top:446px"></div>
<div class="abs td" style="left:44px;width:65px;top:439px;text-align:right">2023</div>
<div class="abs td" style="left:113px;width:51px;top:439px;text-align:right">07</div>
<div class="abs td" style="left:168px;width:78px;top:439px;text-align:right">2</div>
<div class="abs td" style="left:255px;top:439px">CERRADO</div>
<div class="abs td" style="left:311px;top:439px">S</div>
<div class="abs td" style="left:357px;top:439px">N</div>
<div class="abs td" style="left:440px;top:439px">S</div>
<div class="abs td" style="left:517px;top:439px">S</div>
<div class="abs td" style="left:629px;top:439px">N</div>
<div class="abs td" style="left:728px;top:439px">S</div>
<div class="abs td" style="left:832px;top:439px">S</div>
<div class="abs td" style="left:919px;top:439px">S</div>
<div class="abs td" style="left:985px;width:81px;top:439px;text-align:right">0.00</div>
<div class="abs" style="left:15px;top:464px;width:1336px;height:24px;background:#b0c4de"></div>
<div class="abs" style="left:15px;top:488px;width:1336px;height:1px;background:#808080"></div>
<div class="abs radio" style="left:24px;top:471px"></div>
<div class="abs td" style="left:44px;width:65px;top:464px;text-align:right">2023</div>
<div class="abs td" style="left:113px;width:51px;top:464px;text-align:right">06</div>
<div class="abs td" style="left:168px;width:78px;top:464px;text-align:right">5</div>
<div class="abs td" style="left:255px;top:464px">CERRADO</div>
<div class="abs td" style="left:311px;top:464px">S</div>
<div class="abs td" style="left:357px;top:464px">N</div>
<div class="abs td" style="left:440px;top:464px">S</div>
<div class="abs td" style="left:517px;top:464px">S</div>
<div class="abs td" style="left:629px;top:464px">N</div>
<div class="abs td" style="left:728px;top:464px">S</div>
<div class="abs td" style="left:832px;top:464px">S</div>
<div class="abs td" style="left:919px;top:464px">S</div>
<div class="abs td" style="left:985px;width:81px;top:464px;text-align:right">0.00</div>
<div class="abs" style="left:15px;top:489px;width:1336px;height:24px;background:#dfe3e8"></div>
<div class="abs" style="left:15px;top:513px;width:1336px;height:1px;background:#808080"></div>
<div class="abs radio" style="left:24px;top:496px"></div>
<div class="abs td" style="left:44px;width:65px;top:489px;text-align:right">2023</div>
<div class="abs td" style="left:113px;width:51px;top:489px;text-align:right">05</div>
<div class="abs td" style="left:168px;width:78px;top:489px;text-align:right">1</div>
<div class="abs td" style="left:255px;top:489px">CERRADO</div>
<div class="abs td" style="left:311px;top:489px">S</div>
<div class="abs td" style="left:357px;top:489px">N</div>
<div class="abs td" style="left:440px;top:489px">S</div>
<div class="abs td" style="left:517px;top:489px">S</div>
<div class="abs td" style="left:629px;top:489px">N</div>
<div class="abs td" style="left:728px;top:489px">S</div>
<div class="abs td" style="left:832px;top:489px">S</div>
<div class="abs td" style="left:919px;top:489px">S</div>
<div class="abs td" style="left:985px;width:81px;top:489px;text-align:right">0.00</div>
<div class="abs" style="left:15px;top:514px;width:1336px;height:24px;background:#b0c4de"></div>
<div class="abs" style="left:15px;top:538px;width:1336px;height:1px;background:#808080"></div>
<div class="abs radio" style="left:24px;top:521px"></div>
<div class="abs td" style="left:44px;width:65px;top:514px;text-align:right">2023</div>
<div class="abs td" style="left:113px;width:51px;top:514px;text-align:right">04</div>
<div class="abs td" style="left:168px;width:78px;top:514px;text-align:right">1</div>
<div class="abs td" style="left:255px;top:514px">CERRADO</div>
<div class="abs td" style="left:311px;top:514px">S</div>
<div class="abs td" style="left:357px;top:514px">N</div>
<div class="abs td" style="left:440px;top:514px">S</div>
<div class="abs td" style="left:517px;top:514px">S</div>
<div class="abs td" style="left:629px;top:514px">N</div>
<div class="abs td" style="left:728px;top:514px">S</div>
<div class="abs td" style="left:832px;top:514px">S</div>
<div class="abs td" style="left:919px;top:514px">S</div>
<div class="abs td" style="left:985px;width:81px;top:514px;text-align:right">0.00</div>
<div class="abs" style="left:15px;top:539px;width:1336px;height:24px;background:#dfe3e8"></div>
<div class="abs" style="left:15px;top:563px;width:1336px;height:1px;background:#808080"></div>
<div class="abs radio" style="left:24px;top:546px"></div>
<div class="abs td" style="left:44px;width:65px;top:539px;text-align:right">2023</div>
<div class="abs td" style="left:113px;width:51px;top:539px;text-align:right">03</div>
<div class="abs td" style="left:168px;width:78px;top:539px;text-align:right">3</div>
<div class="abs td" style="left:255px;top:539px">CERRADO</div>
<div class="abs td" style="left:311px;top:539px">S</div>
<div class="abs td" style="left:357px;top:539px">N</div>
<div class="abs td" style="left:440px;top:539px">S</div>
<div class="abs td" style="left:517px;top:539px">S</div>
<div class="abs td" style="left:629px;top:539px">N</div>
<div class="abs td" style="left:728px;top:539px">S</div>
<div class="abs td" style="left:832px;top:539px">S</div>
<div class="abs td" style="left:919px;top:539px">S</div>
<div class="abs td" style="left:985px;width:81px;top:539px;text-align:right">0.00</div>
<div class="abs" style="left:15px;top:564px;width:1336px;height:24px;background:#b0c4de"></div>
<div class="abs" style="left:15px;top:588px;width:1336px;height:1px;background:#808080"></div>
<div class="abs radio" style="left:24px;top:571px"></div>
<div class="abs td" style="left:44px;width:65px;top:564px;text-align:right">2023</div>
<div class="abs td" style="left:113px;width:51px;top:564px;text-align:right">02</div>
<div class="abs td" style="left:168px;width:78px;top:564px;text-align:right">2</div>
<div class="abs td" style="left:255px;top:564px">CERRADO</div>
<div class="abs td" style="left:311px;top:564px">S</div>
<div class="abs td" style="left:357px;top:564px">N</div>
<div class="abs td" style="left:440px;top:564px">S</div>
<div class="abs td" style="left:517px;top:564px">S</div>
<div class="abs td" style="left:629px;top:564px">N</div>
<div class="abs td" style="left:728px;top:564px">S</div>
<div class="abs td" style="left:832px;top:564px">S</div>
<div class="abs td" style="left:919px;top:564px">S</div>
<div class="abs td" style="left:985px;width:81px;top:564px;text-align:right">0.00</div>
<div class="abs" style="left:15px;top:589px;width:1336px;height:24px;background:#dfe3e8"></div>
<div class="abs" style="left:15px;top:613px;width:1336px;height:1px;background:#808080"></div>
<div class="abs radio" style="left:24px;top:596px"></div>
<div class="abs td" style="left:44px;width:65px;top:589px;text-align:right">2023</div>
<div class="abs td" style="left:113px;width:51px;top:589px;text-align:right">01</div>
<div class="abs td" style="left:168px;width:78px;top:589px;text-align:right">2</div>
<div class="abs td" style="left:255px;top:589px">CERRADO</div>
<div class="abs td" style="left:311px;top:589px">S</div>
<div class="abs td" style="left:357px;top:589px">S</div>
<div class="abs td" style="left:440px;top:589px">S</div>
<div class="abs td" style="left:517px;top:589px">S</div>
<div class="abs td" style="left:629px;top:589px">S</div>
<div class="abs td" style="left:728px;top:589px">S</div>
<div class="abs td" style="left:832px;top:589px">S</div>
<div class="abs td" style="left:919px;top:589px">S</div>
<div class="abs td" style="left:985px;width:81px;top:589px;text-align:right">0.00</div>
<div class="abs" style="left:44px;top:379px;width:1px;height:234px;background:#808080"></div>
<div class="abs" style="left:113px;top:379px;width:1px;height:234px;background:#808080"></div>
<div class="abs" style="left:168px;top:379px;width:1px;height:234px;background:#808080"></div>
<div class="abs" style="left:250px;top:379px;width:1px;height:234px;background:#808080"></div>
<div class="abs" style="left:306px;top:379px;width:1px;height:234px;background:#808080"></div>
<div class="abs" style="left:352px;top:379px;width:1px;height:234px;background:#808080"></div>
<div class="abs" style="left:435px;top:379px;width:1px;height:234px;background:#808080"></div>
<div class="abs" style="left:512px;top:379px;width:1px;height:234px;background:#808080"></div>
<div class="abs" style="left:624px;top:379px;width:1px;height:234px;background:#808080"></div>
<div class="abs" style="left:723px;top:379px;width:1px;height:234px;background:#808080"></div>
<div class="abs" style="left:827px;top:379px;width:1px;height:234px;background:#808080"></div>
<div class="abs" style="left:914px;top:379px;width:1px;height:234px;background:#808080"></div>
<div class="abs" style="left:985px;top:379px;width:1px;height:234px;background:#808080"></div>
<div class="abs" style="left:1070px;top:379px;width:1px;height:234px;background:#808080"></div>
<div class="abs" style="left:1169px;top:379px;width:1px;height:234px;background:#808080"></div>
<div class="abs" style="left:1257px;top:379px;width:1px;height:234px;background:#808080"></div>
<div class="abs th" style="left:16px;width:28px;top:379px;padding-top:3.5px">Sel</div>
<div class="abs th" style="left:45px;width:68px;top:379px">Año de<br>Carga</div>
<div class="abs th" style="left:114px;width:54px;top:379px;padding-top:3.5px">Periodo</div>
<div class="abs th" style="left:169px;width:81px;top:379px">No.<br>Secuencia</div>
<div class="abs th" style="left:251px;width:55px;top:379px;padding-top:3.5px">Estado</div>
<div class="abs th" style="left:307px;width:45px;top:379px;padding-top:3.5px">Activo</div>
<div class="abs th" style="left:353px;width:82px;top:379px">Subió<br>Apertura</div>
<div class="abs th" style="left:436px;width:76px;top:379px">Subió<br>Balance</div>
<div class="abs th" style="left:513px;width:111px;top:379px">Subió<br>Transferencia</div>
<div class="abs th" style="left:625px;width:98px;top:379px">Subió Presup.<br>Inicial</div>
<div class="abs th" style="left:724px;width:103px;top:379px">Subió Cédulas<br>Presup.</div>
<div class="abs th" style="left:828px;width:86px;top:379px">Pasa<br>Cobertura</div>
<div class="abs th" style="left:915px;width:70px;top:379px">Pasa<br>Calidad</div>
<div class="abs th" style="left:986px;width:84px;top:379px">Peso<br>Generado</div>
<div class="abs th" style="left:1071px;width:98px;top:379px">Peso<br>Recalculado</div>
<div class="abs th" style="left:1170px;width:87px;top:379px">Fecha<br>Recalculo</div>
<div class="abs th" style="left:1258px;width:93px;top:379px">Usuario<br>Recalculo</div>
<div class="abs thead" style="left:15px;top:614px;width:1336px;height:24px"></div>
<div class="abs" style="left:15px;top:614px;width:1336px;height:24px;font:bold 11.5px 'DejaVu Sans',sans-serif;color:#fff;text-align:center;line-height:27px">1</div>
<div class="abs" style="left:15px;top:640.5px;font:bold 10px 'DejaVu Sans Condensed',sans-serif;color:#0000ff;text-decoration:underline">Filtros:</div>
<div class="abs" style="left:0;top:728px;width:1366px;height:40px;background:#3f3f3f;border-top:1px solid #333"></div>
<svg class="abs" style="left:15px;top:740px" width="18" height="17" viewBox="0 0 18 17"><path d="M0 2.3L7.2 1.3V8H0zM8.2 1.1L17.5 0v8H8.2zM0 9h7.2v6.7L0 14.7zM8.2 9h9.3v8l-9.3-1.2z" fill="#fff"/></svg>
<svg class="abs" style="left:60px;top:736px" width="24" height="24" viewBox="0 0 24 24"><circle cx="14.5" cy="9.5" r="7.3" fill="none" stroke="#fff" stroke-width="1.9"/><path d="M9.3 14.7L2 22" stroke="#fff" stroke-width="2.2" stroke-linecap="round"/></svg>
<svg class="abs" style="left:111px;top:739px" width="19" height="19" viewBox="0 0 19 19"><path d="M0.5 2.5h12.5M0.5 16.5h12.5M2.2 5.5h9.2v8H2.2z" fill="none" stroke="#fff" stroke-width="1.2"/><path d="M16 0.5v4M16 14v4.5M15 7h2.5v5H15z" fill="none" stroke="#fff" stroke-width="1.2"/></svg>
<svg class="abs" style="left:160px;top:738px" width="22" height="19" viewBox="0 0 22 19"><path d="M0 1.5a1 1 0 0 1 1-1h6l1.5 1.7H21a1 1 0 0 1 .5 1V17a1 1 0 0 1-1 1H1a1 1 0 0 1-1-1z" fill="#ffcd4f"/><path d="M0 2.5h9l1.5-1.8H1z" fill="#e6a818"/><rect x="4" y="10" width="14" height="9" rx="1" fill="#3a96dd"/><rect x="8" y="13" width="6" height="6" fill="#ffcd4f"/></svg>
<svg class="abs" style="left:208px;top:736px" width="24" height="23" viewBox="0 0 24 23"><path d="M0 8L12 0 24 8z" fill="#0f66b7"/><rect x="0" y="8" width="24" height="15" fill="#28a8ea"/><path d="M0 8l12 7.5L24 8z" fill="#f2f2f2"/><path d="M12 15L0 23h24z" fill="#1490df" opacity="0.6"/><path d="M24 8v15L12 15z" fill="#50d9ff" opacity="0.35"/></svg>
<svg class="abs" style="left:257px;top:735px" width="24" height="25" viewBox="0 0 24 25"><defs><radialGradient id="ff1" cx="0.3" cy="0.7" r="0.8"><stop offset="0" stop-color="#ffbd4f"/><stop offset="0.5" stop-color="#ff6f2c"/><stop offset="1" stop-color="#e31587"/></radialGradient><radialGradient id="ff2" cx="0.5" cy="0.5" r="0.5"><stop offset="0" stop-color="#7542e5"/><stop offset="1" stop-color="#b833e1"/></radialGradient></defs>
<path d="M13 1c1 3 4 4 6 6 4 4 4 11-1 15-5 4-13 3-16-3C0 15 0 11 2 8c0 2 1 3 2 3 0-3 2-5 4-6-1 2 0 3 1 3 2 0 4-3 4-7z" fill="url(#ff1)"/><circle cx="12.5" cy="14" r="5" fill="url(#ff2)"/><path d="M7 11c2-2 5-2 7 0" stroke="#ff9a3c" stroke-width="2" fill="none"/></svg>
<svg class="abs" style="left:305px;top:735px" width="26" height="26" viewBox="0 0 26 26"><defs><linearGradient id="ed1" x1="0" y1="0" x2="1" y2="0"><stop offset="0" stop-color="#1a9be0"/><stop offset="0.5" stop-color="#2ec0d8"/><stop offset="1" stop-color="#5fd86a"/></linearGradient><linearGradient id="ed2" x1="0" y1="0" x2="0" y2="1"><stop offset="0" stop-color="#1b8fe0"/><stop offset="1" stop-color="#0b5cb5"/></linearGradient></defs>
<circle cx="13" cy="13" r="12.3" fill="url(#ed1)"/><path d="M1 12c0 7 5.5 12.5 12.5 12.5 4 0 7.5-1.8 9.6-4.6-2 1-6 1.5-9-.3-3-1.8-4-5-2.3-7.6 1.5-2.3 5-2.5 7.2-.8C17.5 7 12 5.5 7.5 7.2 3.8 8.6 1.5 10.8 1 12z" fill="url(#ed2)"/><circle cx="17.2" cy="14.6" r="3" fill="#3f3f3f"/><path d="M14.2 14.6a3 3 0 0 0 5.5 1.7c-1.8.4-3.8 0-5.5-1.7z" fill="#0c55a8"/></svg>
<div class="abs" style="left:343px;top:728px;width:48px;height:40px;background:#636363"></div>
<svg class="abs" style="left:355px;top:736px" width="26" height="26" viewBox="0 0 26 26">
<circle cx="12" cy="12" r="11.5" fill="#db4437"/><path d="M12 12L22 6.3A11.5 11.5 0 0 1 12 23.5z" fill="#f4c20d"/><path d="M12 12L12 23.5A11.5 11.5 0 0 1 2 6.3z" fill="#0f9d58"/><path d="M12 0.5A11.5 11.5 0 0 1 22 6.3L12 6.3z" fill="#db4437"/>
<circle cx="12" cy="12" r="5.2" fill="#fff"/><circle cx="12" cy="12" r="4.2" fill="#4285f4"/>
<circle cx="18" cy="17.8" r="8" fill="#d6d5dc"/><path d="M13 13l3 3.5 2-.8 2 .8 3-3.5-1.2 5 .8 4-2.5 3.5h-4.2l-2.5-3.5.8-4z" fill="#6b6c74"/><path d="M13.3 13.3l2.3 3-1 1.3zM22.7 13.3l-2.3 3 1 1.3z" fill="#1d4f9a"/><circle cx="16.3" cy="19.5" r="1.1" fill="#25262b"/><circle cx="19.7" cy="19.5" r="1.1" fill="#25262b"/></svg>
<svg class="abs" style="left:404px;top:736px" width="25" height="24" viewBox="0 0 25 24"><rect width="24.2" height="24" fill="#f04e1f"/><path d="M4.2 23.5L4.6 12.2Q5 9.5 7.5 7.6L10.2 6.2L12.4 9.2L11.3 12.6L12.3 15.8L10.9 22.9Z" fill="#fff"/><path d="M11.9 2.2L19.4 3.6L18.6 12.8Q17.5 16.3 14 18.2L12.8 15.4L13.6 11.8L12.3 6.5Z" fill="#fff"/></svg>
<svg class="abs" style="left:453px;top:736px" width="25" height="24" viewBox="0 0 25 24"><rect x="7" y="0.5" width="17.5" height="23" rx="1" fill="#2b7cd3"/><rect x="7" y="6" width="17.5" height="6" fill="#185abd"/><rect x="7" y="12" width="17.5" height="6" fill="#103f91"/><rect x="7" y="0.5" width="17.5" height="5.5" fill="#41a5ee"/><rect x="0" y="5" width="13" height="13" rx="1" fill="#185abd"/><text x="6.5" y="15.5" font-family="Liberation Sans" font-weight="bold" font-size="10" fill="#fff" text-anchor="middle">W</text></svg>
<svg class="abs" style="left:502px;top:736px" width="25" height="24" viewBox="0 0 25 24"><rect x="7" y="0.5" width="17.5" height="23" rx="1" fill="#21a366"/><rect x="15.5" y="0.5" width="9" height="11.5" fill="#33c481"/><rect x="7" y="12" width="17.5" height="11.5" fill="#107c41"/><rect x="15.5" y="12" width="9" height="5.7" fill="#185c37" opacity=".5"/><rect x="0" y="5" width="13" height="13" rx="1" fill="#107c41"/><text x="6.5" y="15.5" font-family="Liberation Sans" font-weight="bold" font-size="10" fill="#fff" text-anchor="middle">X</text></svg>
<svg class="abs" style="left:551px;top:736px" width="24" height="24" viewBox="0 0 24 24"><circle cx="12" cy="12" r="12" fill="#1ed760"/><path d="M5.5 8.8c4.5-1.4 9.5-1 13.2 1.1M6.3 12.5c3.8-1.1 7.9-.7 11 1M7 15.9c3.1-.8 6.2-.5 8.8.9" fill="none" stroke="#111" stroke-width="1.9" stroke-linecap="round"/></svg>
<div class="abs" style="left:151px;top:766px;width:40px;height:2px;background:#a8d3f7"></div>
<div class="abs" style="left:249px;top:766px;width:40px;height:2px;background:#a8d3f7"></div>
<div class="abs" style="left:298px;top:766px;width:40px;height:2px;background:#a8d3f7"></div>
<div class="abs" style="left:343px;top:766px;width:48px;height:2px;background:#a8d3f7"></div>
<div class="abs" style="left:494px;top:766px;width:40px;height:2px;background:#a8d3f7"></div>
<div class="abs" style="left:543px;top:766px;width:40px;height:2px;background:#a8d3f7"></div>
<svg class="abs" style="left:974px;top:739px" width="26" height="17" viewBox="0 0 26 17"><defs><linearGradient id="cl" x1="0" y1="0" x2="0" y2="1"><stop offset="0" stop-color="#dce9fa"/><stop offset="1" stop-color="#8fb6e8"/></linearGradient></defs><path d="M5 16.5h16a4.5 4.5 0 0 0 .8-8.9A6.5 6.5 0 0 0 9.5 5.8 5 5 0 0 0 5 16.5z" fill="url(#cl)"/></svg>
<div class="abs tray" style="left:1007px;top:738px">24°C</div>
<div class="abs tray" style="left:1045px;top:738px;letter-spacing:0.4px">Nublado</div>
<svg class="abs" style="left:1122px;top:742px" width="14" height="9" viewBox="0 0 14 9"><path d="M1 8l6-6.5L13 8" fill="none" stroke="#fff" stroke-width="1.3"/></svg>
<svg class="abs" style="left:1147px;top:739px" width="13" height="17" viewBox="0 0 13 17"><rect x="1" y="5" width="7.5" height="7" rx="1.5" fill="none" stroke="#fff" stroke-width="1"/><path d="M8.5 7.3l3.5-2v6.4l-3.5-2" fill="none" stroke="#fff" stroke-width="1"/><path d="M3 1.5h4M3 15.5h4" stroke="#fff" stroke-width="1"/><path d="M2 3a4 4 0 0 0 0 11" fill="none" stroke="#fff" stroke-width="0.8"/></svg>
<svg class="abs" style="left:1169px;top:740px" width="17" height="16" viewBox="0 0 17 16"><rect x="3.5" y="2.5" width="13" height="8.5" fill="none" stroke="#fff" stroke-width="1"/><path d="M10 11v3M6 15h8" stroke="#fff" stroke-width="1"/><rect x="0.5" y="0.5" width="5" height="5" fill="#3a3a3a" stroke="#fff" stroke-width="1"/></svg>
<svg class="abs" style="left:1193px;top:740px" width="17" height="16" viewBox="0 0 17 16"><path d="M1 5.5h3l4-4v13l-4-4H1z" fill="none" stroke="#fff" stroke-width="1"/><path d="M10.5 5.5a3.5 3.5 0 0 1 0 5M12.5 3.5a6.5 6.5 0 0 1 0 9" fill="none" stroke="#fff" stroke-width="1"/><path d="M14.5 1.5a9.5 9.5 0 0 1 0 13" fill="none" stroke="#999" stroke-width="1"/></svg>
<div class="abs tray" style="left:1221px;top:738px;font-size:11.5px;letter-spacing:-0.6px">ESP</div>
<div class="abs tray" style="left:1253px;top:730px;width:57px;text-align:center;font-size:11.7px;line-height:18px;letter-spacing:-0.1px">14:22<br>12/10/2023</div>
<div class="abs" style="left:1361px;top:728px;width:1px;height:40px;background:#6a6a6a"></div>
<svg class="abs" style="left:1324px;top:739px" width="26" height="25" viewBox="0 0 26 25"><path d="M1 1h18v12H9l-4 4v-4H1z" fill="#fff"/><path d="M4 4.5h12M4 7.5h12M4 10.5h8" stroke="#3a3a3a" stroke-width="1.2"/><circle cx="16.5" cy="15.5" r="8" fill="#3f3f3f" stroke="#ddd" stroke-width="1"/><text x="16.5" y="19.5" font-family="Liberation Sans" font-size="11" fill="#fff" text-anchor="middle">9</text></svg>
</body></html>
